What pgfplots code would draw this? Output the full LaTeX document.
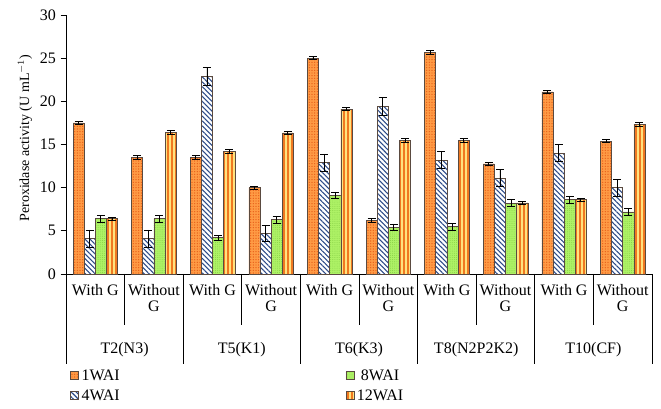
\documentclass[border=0pt]{standalone}
\usepackage{fontspec}
\setmainfont{Liberation Serif}
\usepackage{pgfplots}
\pgfplotsset{compat=1.18}
\usetikzlibrary{patterns,patterns.meta}

\definecolor{oneF}{HTML}{FF9B45}
\definecolor{oneP}{HTML}{E8601A}
\definecolor{fourP}{HTML}{2C4A88}
\definecolor{eightF}{HTML}{AEF266}
\definecolor{eightP}{HTML}{86CF44}
\definecolor{twelveF}{HTML}{FFE27E}
\definecolor{twelveP}{HTML}{F07820}
\definecolor{edge}{HTML}{5A4A40}

\tikzset{
  s1/.style={fill=oneF, draw=edge, postaction={pattern={Dots[distance=2pt,radius=0.55pt]}, pattern color=oneP}},
  s4/.style={fill=white, draw=edge, postaction={pattern={Lines[angle=-45,distance=2.6pt,line width=0.8pt]}, pattern color=fourP}},
  s8/.style={fill=eightF, draw=edge, postaction={pattern={Dots[distance=1.6pt,radius=0.35pt]}, pattern color=eightP}},
  s12/.style={fill=twelveF, draw=edge, postaction={pattern={Lines[angle=90,distance=3pt,line width=1.1pt]}, pattern color=twelveP}},
}

\begin{document}
\begin{tikzpicture}
\begin{axis}[
  scale only axis,
  width=439.5pt, height=194.25pt,
  xmin=-0.5, xmax=9.5,
  ymin=0, ymax=30,
  ytick={0,5,...,30},
  axis x line*=bottom,
  axis y line*=left,
  y axis line style={-},
  x axis line style={-},
  ytick style={black, line width=0.5pt},
  tick align=outside,
  major tick length=4pt,
  xtick={0,...,9},
  xtick style={draw=none},
  xticklabels={With G,Without\\G,With G,Without\\G,With G,Without\\G,With G,Without\\G,With G,Without\\G},
  xticklabel style={align=center, font=\fontsize{12}{12}\selectfont},
  yticklabel style={font=\fontsize{12}{12}\selectfont},
  /pgf/number format/assume math mode=true,
  ylabel={Peroxidase activity (U mL$^{-1}$)},
  ylabel style={at={(axis description cs:-0.07,0.525)}, anchor=center, font=\fontsize{10.5}{12}\selectfont},
  ybar, bar width=0.19,
  clip=false,
  error bars/y dir=both, error bars/y explicit,
  error bars/error bar style={black, line width=0.6pt},
  error bars/error mark options={rotate=90, mark size=3pt, black, line width=0.6pt},
  legend columns=2,
  legend image code/.code={\draw[#1, line width=0.5pt] (0pt,-2.5pt) rectangle (6pt,3.5pt);},
  legend style={at={(rel axis cs:0.0,-0.347)}, anchor=north west, draw=none, fill=none,
    font=\fontsize{12}{12}\selectfont, row sep=1.5pt},
]
\addplot[s1, bar shift=-0.285, forget plot] coordinates {
  (0,17.5) +- (0,0.2) (1,13.5) +- (0,0.2) (2,13.5) +- (0,0.2) (3,10.0) +- (0,0.2) (4,25.0) +- (0,0.2)
  (5,6.2) +- (0,0.2) (6,25.65) +- (0,0.2) (7,12.75) +- (0,0.2) (8,21.1) +- (0,0.2) (9,15.4) +- (0,0.2)};
\addplot[s4, bar shift=-0.095, forget plot] coordinates {
  (0,4.1) +- (0,1.0) (1,4.1) +- (0,1.0) (2,22.9) +- (0,1.0) (3,4.7) +- (0,0.9) (4,12.9) +- (0,1.0)
  (5,19.4) +- (0,1.0) (6,13.2) +- (0,1.0) (7,11.1) +- (0,1.0) (8,14.0) +- (0,1.0) (9,10.0) +- (0,1.0)};
\addplot[s8, bar shift=0.095, forget plot] coordinates {
  (0,6.4) +- (0,0.4) (1,6.4) +- (0,0.4) (2,4.2) +- (0,0.3) (3,6.3) +- (0,0.4) (4,9.1) +- (0,0.4)
  (5,5.4) +- (0,0.4) (6,5.5) +- (0,0.4) (7,8.2) +- (0,0.4) (8,8.6) +- (0,0.4) (9,7.2) +- (0,0.4)};
\addplot[s12, bar shift=0.285, forget plot] coordinates {
  (0,6.4) +- (0,0.2) (1,16.4) +- (0,0.2) (2,14.2) +- (0,0.2) (3,16.35) +- (0,0.2) (4,19.1) +- (0,0.2)
  (5,15.45) +- (0,0.2) (6,15.5) +- (0,0.2) (7,8.25) +- (0,0.2) (8,8.6) +- (0,0.2) (9,17.35) +- (0,0.2)};
\addlegendimage{s1}\addlegendentry{\makebox[196pt][l]{1WAI}}
\addlegendimage{s8}\addlegendentry{8WAI}
\addlegendimage{s4}\addlegendentry{\makebox[196pt][l]{4WAI}}
\addlegendimage{s12}\addlegendentry{12WAI}

\pgfplotsinvokeforeach{0.5,2.5,4.5,6.5,8.5}{
  \draw[black, line width=0.5pt] (axis cs:#1,0) -- ++(0pt,-38pt);
}
\pgfplotsinvokeforeach{-0.5,1.5,3.5,5.5,7.5,9.5}{
  \draw[black, line width=0.5pt] (axis cs:#1,0) -- ++(0pt,-67.5pt);
}
\node[font=\fontsize{12}{12}\selectfont] at ([yshift=-57pt]axis cs:0.5,0) {T2(N3)};
\node[font=\fontsize{12}{12}\selectfont] at ([yshift=-57pt]axis cs:2.5,0) {T5(K1)};
\node[font=\fontsize{12}{12}\selectfont] at ([yshift=-57pt]axis cs:4.5,0) {T6(K3)};
\node[font=\fontsize{12}{12}\selectfont] at ([yshift=-57pt]axis cs:6.5,0) {T8(N2P2K2)};
\node[font=\fontsize{12}{12}\selectfont] at ([yshift=-57pt]axis cs:8.5,0) {T10(CF)};
\coordinate (O) at (rel axis cs:0,0);
\end{axis}
\path (O) ++(-49.5pt,-101.25pt) rectangle ++(495.75pt,306.75pt);
\end{tikzpicture}
\end{document}
